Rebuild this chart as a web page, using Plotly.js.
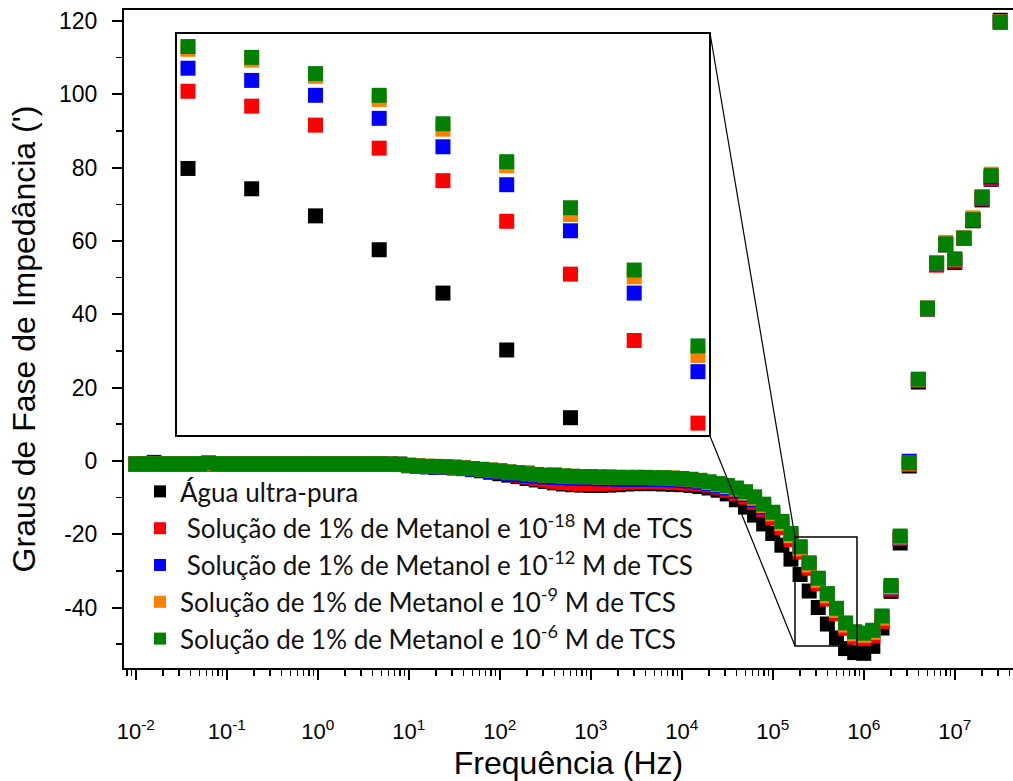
<!DOCTYPE html>
<html>
<head>
<meta charset="utf-8">
<script src="https://cdn.plot.ly/plotly-3.0.1.min.js"></script>
<style>
html,body{margin:0;padding:0;background:#fff;}
#chart{width:1013px;height:781px;}
</style>
</head>
<body>
<div id="chart"></div>
<script>
// Frequencies (Hz), 10 points per decade, 1e-2 .. 10^7.5
var freq = [
 0.01, 0.01259, 0.01585, 0.01995, 0.02512, 0.03162, 0.03981, 0.05012, 0.0631, 0.07943,
 0.1, 0.1259, 0.1585, 0.1995, 0.2512, 0.3162, 0.3981, 0.5012, 0.631, 0.7943,
 1, 1.259, 1.585, 1.995, 2.512, 3.162, 3.981, 5.012, 6.31, 7.943,
 10, 12.59, 15.85, 19.95, 25.12, 31.62, 39.81, 50.12, 63.1, 79.43,
 100, 125.9, 158.5, 199.5, 251.2, 316.2, 398.1, 501.2, 631, 794.3,
 1000, 1259, 1585, 1995, 2512, 3162, 3981, 5012, 6310, 7943,
 10000, 12590, 15850, 19950, 25120, 31620, 39810, 50120, 63100, 79430,
 100000, 125900, 158500, 199500, 251200, 316200, 398100, 501200, 631000, 794300,
 1000000, 1259000, 1585000, 1995000, 2512000, 3162000, 3981000, 5012000, 6310000, 7943000,
 10000000, 12590000, 15850000, 19950000, 25120000, 31620000
];

var agua = [
 -0.9,-0.9,-0.9,-0.9,-0.9,-0.9,-0.9,-0.9,-0.9,-0.9,
 -0.9,-0.9,-0.9,-0.9,-0.9,-0.9,-0.9,-0.9,-0.9,-0.9,
 -0.9,-0.9,-0.9,-0.9,-0.9,-0.9,-0.9,-0.9,-0.9,-1.0,
 -1.3,-1.5,-1.6,-1.7,-1.8,-1.9,-2.1,-2.4,-2.7,-3.1,
 -3.5,-3.9,-4.3,-4.8,-5.2,-5.6,-6.0,-6.3,-6.5,-6.6,
 -6.7,-6.7,-6.6,-6.5,-6.3,-6.2,-6.2,-6.2,-6.3,-6.4,
 -6.5,-6.7,-7.0,-7.4,-8.0,-9.0,-10.6,-12.6,-14.8,-17.2,
 -19.8,-23.0,-26.8,-31.0,-35.5,-40.0,-44.5,-48.3,-51.2,-52.3,
 -52.5,-50.6,-45.6,-35.6,-22.4,-1.4,21.5,41.4,53.6,58.9,
 54.1,60.7,65.5,71.2,76.8,120.2
];

var tcs18 = [
 -0.85,-0.85,-0.85,-0.85,-0.85,-0.85,-0.85,-0.85,-0.85,-0.85,
 -0.85,-0.85,-0.85,-0.85,-0.85,-0.85,-0.85,-0.85,-0.85,-0.85,
 -0.85,-0.85,-0.85,-0.85,-0.85,-0.85,-0.85,-0.85,-0.9,-0.95,
 -1.2,-1.4,-1.5,-1.6,-1.7,-1.8,-1.9,-2.2,-2.5,-2.9,
 -3.1,-3.5,-3.9,-4.4,-4.8,-5.2,-5.6,-5.9,-6.1,-6.2,
 -6.2,-6.2,-6.1,-6.0,-5.8,-5.7,-5.7,-5.7,-5.8,-5.9,
 -6.0,-6.1,-6.3,-6.6,-7.2,-8.0,-8.9,-9.9,-11.3,-13.3,
 -15.6,-18.2,-21.5,-24.9,-29.3,-33.5,-37.7,-41.7,-45.7,-48.1,
 -48.5,-47.7,-43.8,-35.0,-21.2,-1.0,21.9,41.5,53.4,59.0,
 54.5,60.7,65.6,71.5,77.0,119.8
];

var tcs12 = [
 -0.8,-0.8,-0.4,-0.8,-0.8,-0.8,-0.8,-0.8,-0.8,-0.8,
 -0.8,-0.8,-0.8,-0.8,-0.8,-0.8,-0.8,-0.8,-0.8,-0.8,
 -0.8,-0.8,-0.8,-0.8,-0.8,-0.8,-0.8,-0.8,-0.9,-0.9,
 -1.3,-1.5,-1.6,-1.7,-1.8,-1.9,-2.1,-2.3,-2.6,-2.9,
 -3.1,-3.4,-3.7,-4.0,-4.2,-4.4,-4.5,-4.6,-4.7,-4.8,
 -4.8,-4.9,-4.9,-5.0,-5.0,-5.0,-5.0,-5.1,-5.1,-5.2,
 -5.3,-5.5,-5.8,-6.2,-6.8,-7.4,-8.2,-9.2,-10.6,-12.6,
 -14.6,-17.0,-20.2,-23.7,-28.1,-32.3,-36.5,-40.5,-44.5,-46.9,
 -47.3,-46.5,-42.6,-34.6,-21.0,-0.1,22.1,41.6,53.8,59.1,
 54.9,60.7,65.7,71.8,77.5,119.7
];

var tcs9 = [
 -0.8,-0.8,-0.8,-0.8,-0.8,-0.8,-0.8,-0.8,-0.8,-0.8,
 -0.8,-0.8,-0.8,-0.8,-0.8,-0.8,-0.8,-0.8,-0.8,-0.8,
 -0.8,-0.8,-0.8,-0.8,-0.8,-0.8,-0.8,-0.8,-0.9,-0.9,
 -1.2,-1.4,-1.5,-1.5,-1.6,-1.7,-1.9,-2.1,-2.3,-2.5,
 -2.7,-3.0,-3.2,-3.2,-3.7,-3.9,-3.7,-4.1,-4.2,-4.3,
 -4.3,-4.4,-4.4,-4.5,-4.5,-4.5,-4.5,-4.6,-4.6,-4.7,
 -4.9,-5.1,-5.4,-5.9,-6.4,-7.0,-7.7,-8.8,-10.2,-12.2,
 -14.5,-17.1,-20.4,-24.0,-28.4,-32.6,-36.8,-40.8,-44.8,-47.2,
 -47.6,-46.8,-42.9,-34.4,-20.8,-0.6,22.2,41.7,54.0,59.6,
 55.0,60.8,66.3,72.0,78.2,119.8
];

var tcs6 = [
 -0.8,-0.8,-0.8,-0.8,-0.8,-0.8,-0.8,-0.8,-0.5,-0.8,
 -0.8,-0.8,-0.8,-0.8,-0.8,-0.8,-0.8,-0.8,-0.8,-0.8,
 -0.8,-0.8,-0.8,-0.8,-0.8,-0.8,-0.8,-0.8,-0.9,-0.9,
 -1.2,-1.4,-1.5,-1.5,-1.6,-1.7,-1.9,-2.1,-2.3,-2.5,
 -2.7,-3.0,-3.2,-3.5,-3.7,-3.9,-4.0,-4.1,-4.2,-4.3,
 -4.3,-4.4,-4.4,-4.5,-4.5,-4.5,-4.5,-4.6,-4.6,-4.7,
 -4.8,-5.0,-5.3,-5.7,-6.2,-6.7,-7.4,-8.4,-9.8,-11.8,
 -14.0,-16.5,-19.8,-23.4,-27.8,-32.0,-36.2,-40.2,-44.2,-46.6,
 -47.0,-46.2,-42.3,-34.0,-20.5,-0.5,22.3,41.7,54.0,59.2,
 55.1,60.8,65.8,72.0,77.8,119.7
];

// Inset (zoom of the minimum region)
var insetFreq   = [158500, 199500, 251200, 316200, 398100, 501200, 631000, 794300, 1000000];
var insetAgua   = [-31.0, -32.5, -34.5, -37.0, -40.2, -44.4, -49.4, null, null];
var insetTcs18  = [-25.3, -26.4, -27.8, -29.5, -31.9, -34.9, -38.8, -43.7, -49.8];
var insetTcs12  = [-23.6, -24.5, -25.6, -27.3, -29.4, -32.2, -35.6, -40.2, -46.0];
var insetTcs9   = [-22.2, -23.0, -24.2, -25.9, -28.1, -30.8, -34.4, -39.0, -44.8];
var insetTcs6   = [-22.0, -22.8, -24.0, -25.6, -27.7, -30.5, -33.9, -38.5, -44.1];

var seriesNames = [
 'Água ultra-pura',
 '\u00a0Solução de 1% de Metanol e 10<sup>-18</sup> M de TCS',
 '\u00a0Solução de 1% de Metanol e 10<sup>-12</sup> M de TCS',
 'Solução de 1% de Metanol e 10<sup>-9</sup> M de TCS',
 'Solução de 1% de Metanol e 10<sup>-6</sup> M de TCS'
];
var seriesColors = ['#000000', '#ff0000', '#0000ff', '#ff8000', '#008000'];

var xTickVals = [0.01, 0.1, 1, 10, 100, 1000, 10000, 100000, 1000000, 10000000];
var xTickText = ['10<sup>-2</sup>','10<sup>-1</sup>','10<sup>0</sup>','10<sup>1</sup>','10<sup>2</sup>',
                 '10<sup>3</sup>','10<sup>4</sup>','10<sup>5</sup>','10<sup>6</sup>','10<sup>7</sup>'];
var yTickVals = [-40, -20, 0, 20, 40, 60, 80, 100, 120];
var yTickText = ['-40', '-20', '0', '20', '40', '60', '80', '100', '120'];

var mainY = [agua, tcs18, tcs12, tcs9, tcs6];
var insetY = [insetAgua, insetTcs18, insetTcs12, insetTcs9, insetTcs6];

var traces = [];
for (var i = 0; i < 5; i++) {
  traces.push({
    type: 'scatter', mode: 'markers', x: freq, y: mainY[i], name: seriesNames[i],
    legendgroup: 'g' + i,
    marker: {symbol: 'square', size: 15, color: seriesColors[i], line: {width: 0}},
    xaxis: 'x', yaxis: 'y', hoverinfo: 'x+y'
  });
}
for (var j = 0; j < 5; j++) {
  traces.push({
    type: 'scatter', mode: 'markers', x: insetFreq, y: insetY[j], name: seriesNames[j],
    showlegend: false, legendgroup: 'g' + j,
    marker: {symbol: 'square', size: 15, color: seriesColors[j], line: {width: 0}},
    xaxis: 'x2', yaxis: 'y2', hoverinfo: 'x+y'
  });
}

var L = 124, R = 1013, T = 10, B = 668;
function px(v) { return (v - L) / (R - L); }
function py(v) { return (B - v) / (B - T); }

var xTickFont = {family: 'Liberation Sans, Arial, sans-serif', size: 22, color: '#000'};
var yTickFont = {family: 'Liberation Sans, Arial, sans-serif', size: 23, color: '#000'};
var titleFont = {family: 'Liberation Sans, Arial, sans-serif', size: 32, color: '#000'};

var layout = {
  width: 1013, height: 781,
  margin: {l: L, r: 1013 - R, t: T, b: 781 - B},
  paper_bgcolor: '#fff', plot_bgcolor: '#fff',
  showlegend: true,
  legend: {
    x: px(140), y: py(468), xanchor: 'left', yanchor: 'top',
    bgcolor: 'rgba(0,0,0,0)', borderwidth: 0,
    font: {family: 'Lato, Open Sans, sans-serif', size: 26, color: '#111'},
    traceorder: 'grouped', tracegroupgap: 0, itemsizing: 'constant'
  },
  xaxis: {
    type: 'log', range: [-2.13, 7.64], domain: [0, 1],
    showline: true, linecolor: '#000', linewidth: 2, mirror: true,
    ticks: 'outside', ticklen: 10, tickwidth: 2, tickcolor: '#000',
    tickmode: 'array', tickvals: xTickVals, ticktext: xTickText,
    tickfont: xTickFont, ticklabelstandoff: 33,
    minor: {ticks: 'outside', ticklen: 6, tickwidth: 1.5, tickcolor: '#000', dtick: 'D1', showgrid: false},
    showgrid: false, zeroline: false,
    title: {text: 'Frequência (Hz)', font: titleFont, standoff: 11}
  },
  yaxis: {
    range: [-56.5, 123], domain: [0, 1],
    showline: true, linecolor: '#000', linewidth: 2, mirror: false,
    ticks: 'outside', ticklen: 10, tickwidth: 2, tickcolor: '#000',
    tickmode: 'array', tickvals: yTickVals, ticktext: yTickText,
    tickfont: yTickFont, ticklabelstandoff: 10,
    minor: {ticks: 'outside', ticklen: 6, tickwidth: 1.5, tickcolor: '#000', dtick: 10, showgrid: false},
    showgrid: false, zeroline: false,
    title: {text: "Graus de Fase de Impedância (')", font: titleFont, standoff: 14}
  },
  xaxis2: {
    type: 'log', range: [5.1812, 6.0189], domain: [px(176), px(710)], anchor: 'y2',
    visible: false, showgrid: false, zeroline: false
  },
  yaxis2: {
    range: [-50.75, -21], domain: [py(436), py(33)], anchor: 'x2',
    visible: false, showgrid: false, zeroline: false
  },
  shapes: [
    {type: 'rect', xref: 'paper', yref: 'paper', x0: px(176), x1: px(710), y0: py(436), y1: py(33),
     line: {color: '#000', width: 2}, fillcolor: 'rgba(0,0,0,0)'},
    {type: 'rect', xref: 'paper', yref: 'paper', x0: px(795), x1: px(857), y0: py(646), y1: py(537),
     line: {color: '#000', width: 1.5}, fillcolor: 'rgba(0,0,0,0)'},
    {type: 'line', xref: 'paper', yref: 'paper', x0: px(710), y0: py(33), x1: px(795), y1: py(537),
     line: {color: '#000', width: 1.2}},
    {type: 'line', xref: 'paper', yref: 'paper', x0: px(710), y0: py(436), x1: px(795), y1: py(646),
     line: {color: '#000', width: 1.2}}
  ]
};

Plotly.newPlot('chart', traces, layout, {displayModeBar: false, staticPlot: true});
</script>
</body>
</html>
